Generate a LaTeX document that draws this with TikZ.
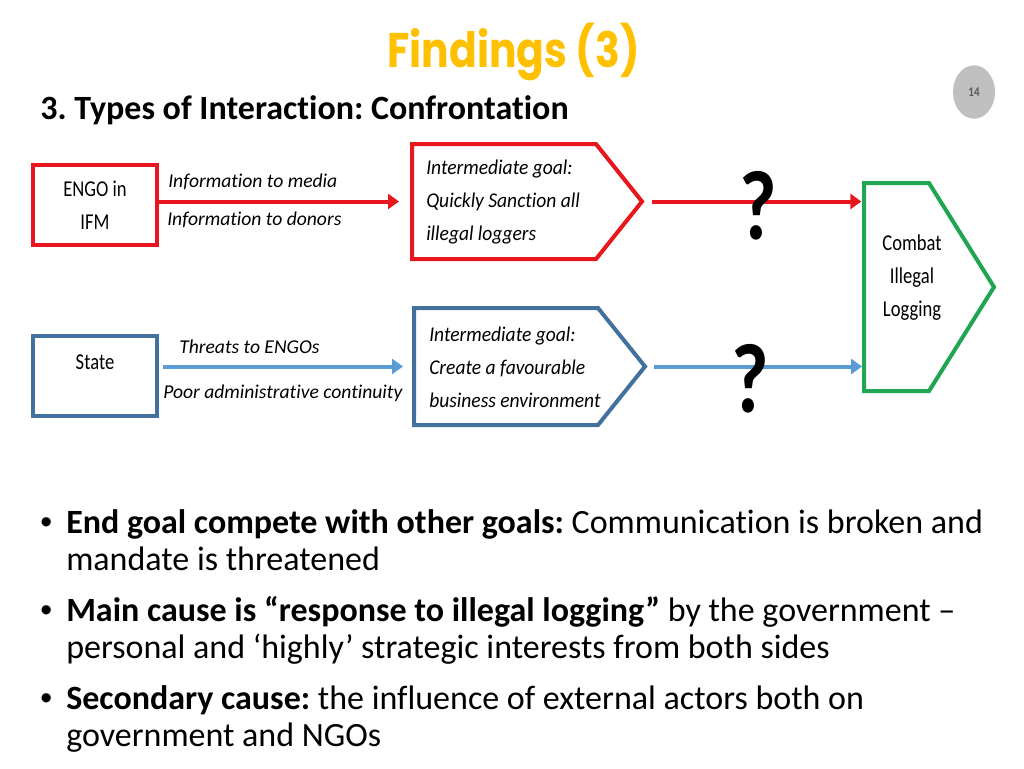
\documentclass[tikz,border=0pt]{standalone}
\usepackage{fontspec}
\setmainfont{Carlito}[Ligatures=NoCommon]
\newfontfamily\cf[FakeStretch=0.82,Ligatures=NoCommon]{Carlito}
\newfontfamily\cfi[FakeStretch=0.93,Ligatures=NoCommon]{Carlito}
\newfontfamily\ttlfont[FakeStretch=0.84]{Poppins}
\newfontfamily\arialf{Liberation Sans}
\usetikzlibrary{arrows.meta,calc,shapes.geometric}
\definecolor{cred}{HTML}{E8161E}
\definecolor{cboxblue}{HTML}{41719C}
\definecolor{carrblue}{HTML}{5B9BD5}
\definecolor{cgreen}{HTML}{21A552}
\definecolor{cyellow}{HTML}{FFC000}
\definecolor{cgraycirc}{HTML}{BFBFBF}
\definecolor{cnum}{HTML}{595959}
\frenchspacing
\begin{document}
\begin{tikzpicture}[x=0.75pt,y=-0.75pt,
  box/.style={draw, line width=3pt, minimum width=93pt, minimum height=60pt, inner sep=0pt},
  body/.style={inner sep=0pt, outer sep=0pt},
  diagtxt/.style={font=\cf\fontsize{17}{24.75}\selectfont, align=center, inner sep=0pt},
  goaltxt/.style={font=\cfi\itshape\fontsize{15.75}{24.75}\selectfont, align=left, inner sep=0pt},
  lab/.style={font=\itshape\fontsize{14.7}{17}\selectfont, inner sep=0pt, anchor=base west},
  shapeline/.style={line width=3pt, line join=miter},
  arr/.style={line width=3pt, -{Triangle[length=8.25pt,width=11.25pt]}},
  qmark/.style={font=\cf\bfseries\fontsize{74}{74}\selectfont, inner sep=0pt},
  bul/.style={font=\fontsize{25.5}{30}\selectfont, anchor=base west, inner sep=0pt},
  dot/.style={font=\arialf\fontsize{25.4}{30}\selectfont, anchor=base west, inner sep=0pt}
]
\useasboundingbox[fill=white] (0,0) rectangle (1024,768);

% title
\node[font=\ttlfont\bfseries\fontsize{36.5}{40}\selectfont, text=cyellow, anchor=base, inner sep=0pt] (title) at (513.5,67) {Findings (3)};
\node[font=\bfseries\fontsize{25.5}{30}\selectfont, anchor=base west, inner sep=0pt] (sub) at (40,119) {3. Types of Interaction: Confrontation};
\node[ellipse, fill=cgraycirc, minimum width=31.5pt, minimum height=40pt, inner sep=0pt,
      font=\cf\bfseries\fontsize{10}{12}\selectfont, text=cnum] (pg) at (974,92) {14};

% left boxes
\node[box, draw=cred, diagtxt] (engo) at (95,205) {ENGO in\\IFM};
\node[box, draw=cboxblue] (state) at (95,375.5) {};
\node[diagtxt] (statet) at ($(state.center)+(0,-13)$) {State};

% red goal
\node[body, minimum width=138pt, minimum height=86.25pt] (g1) at (504,201.5) {};
\coordinate (g1tip) at ($(g1.east)+(46,0)$);
\draw[shapeline, cred] (g1.north west) -- (g1.north east) -- (g1tip) -- (g1.south east) -- (g1.south west) -- cycle;
\node[goaltxt, anchor=west] (g1t) at ($(g1.west)+(14,0.5)$) {Intermediate goal:\\Quickly Sanction all\\illegal loggers};

% blue goal
\node[body, minimum width=138pt, minimum height=87.75pt] (g2) at (506,366.5) {};
\coordinate (g2tip) at ($(g2.east)+(47,0)$);
\draw[shapeline, cboxblue] (g2.north west) -- (g2.north east) -- (g2tip) -- (g2.south east) -- (g2.south west) -- cycle;
\node[goaltxt, anchor=west] (g2t) at ($(g2.west)+(15,0.5)$) {Intermediate goal:\\Create a favourable\\business environment};

% green end goal
\node[body, minimum width=48.75pt, minimum height=156pt] (green) at (896.5,287) {};
\coordinate (gtip) at ($(green.east)+(65,0)$);
\draw[shapeline, cgreen] (green.north west) -- (green.north east) -- (gtip) -- (green.south east) -- (green.south west) -- cycle;
\node[diagtxt] (greent) at (912,278) {Combat\\Illegal\\Logging};

% arrows
\draw[arr, cred, shorten >=9.75pt] (engo.east |- g1.west) -- (g1.west);
\draw[arr, cred, shorten <=7.5pt, shorten >=2pt] (g1tip) -- (green.west |- g1tip);
\draw[arr, carrblue, shorten <=3pt, shorten >=8.25pt] (state.east |- g2.west) -- (g2.west);
\draw[arr, carrblue, shorten <=6.75pt, shorten >=1.5pt] (g2tip) -- (green.west |- g2tip);

% arrow labels
\node[lab] (l1) at (168,187) {Information to media};
\node[lab] (l2) at (167,225) {Information to donors};
\node[lab] (l3) at (179,353) {Threats to ENGOs};
\node[lab] (l4) at (163,398) {Poor administrative continuity};

% question marks
\node[qmark] (q1) at (758,206) {?};
\node[qmark] (q2) at (750,378.5) {?};

% bullets
\node[dot] (d1) at (40,533) {•};
\node[bul] (t1) at (66,533) {\textbf{End goal compete with other goals:} Communication is broken and};
\node[bul] (t2) at (66,570) {mandate is threatened};
\node[dot] (d2) at (40,621) {•};
\node[bul] (t3) at (66,621) {\textbf{Main cause is “response to illegal logging”} by the government –};
\node[bul] (t4) at (66,658) {personal and ‘highly’ strategic interests from both sides};
\node[dot] (d3) at (40,709) {•};
\node[bul] (t5) at (66,709) {\textbf{Secondary cause:} the influence of external actors both on};
\node[bul] (t6) at (66,746) {government and NGOs};
\end{tikzpicture}
\end{document}
